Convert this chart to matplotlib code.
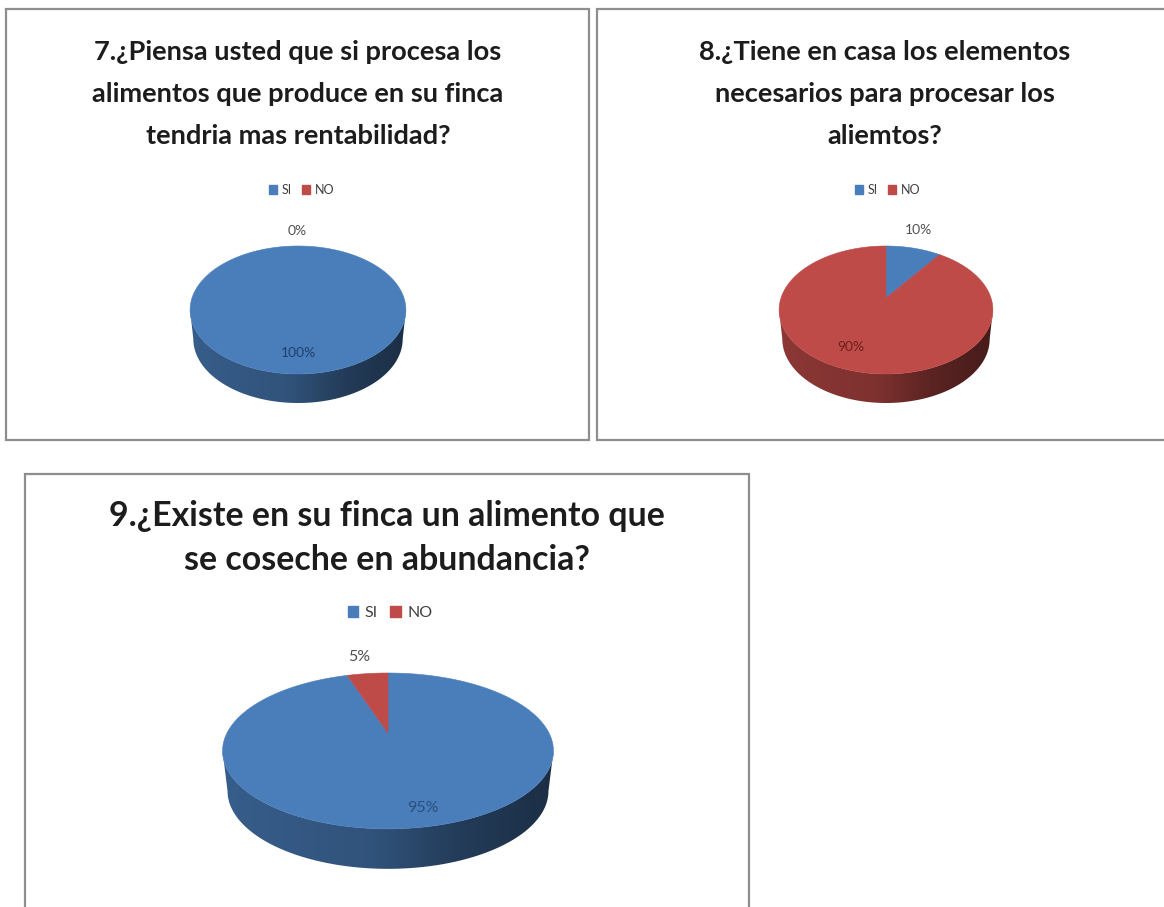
import numpy as np
import matplotlib
matplotlib.use("Agg")
import matplotlib.pyplot as plt
from matplotlib.patches import Patch, Polygon, Rectangle

categories = ["SI", "NO"]
colors = ["#4a7ebb", "#be4b48"]

values_7 = [100, 0]
values_8 = [10, 90]
values_9 = [95, 5]

title_7 = "7.¿Piensa usted que si procesa los\nalimentos que produce en su finca\ntendria mas rentabilidad?"
title_8 = "8.¿Tiene en casa los elementos\nnecesarios para procesar los\naliemtos?"
title_9 = "9.¿Existe en su finca un alimento que\nse coseche en abundancia?"

plt.rcParams["font.family"] = ["Lato", "DejaVu Sans"]

fig = plt.figure(figsize=(11.64, 9.07), dpi=100)
ax = fig.add_axes([0, 0, 1, 1])
ax.set_xlim(0, 1164)
ax.set_ylim(907, 0)
ax.axis("off")


def project(theta, cx, cy, rx, ry, k):
    """Circulo unitario visto em perspectiva."""
    w = 1 + k * np.sin(theta)
    return cx + rx * np.cos(theta) / w, cy - ry * np.sin(theta) / w


def draw_side(t0, t1, color, cx, cy, rx, ry, k, depth):
    # parede lateral so na parte da frente
    lo = np.pi + np.arcsin(k)
    hi = 2 * np.pi - np.arcsin(k)
    t0, t1 = min(t0, t1), max(t0, t1)
    for shift in (0, 2 * np.pi, -2 * np.pi):
        a, b = max(t0 + shift, lo), min(t1 + shift, hi)
        if b <= a:
            continue
        t = np.linspace(a, b, 120)
        x, y = project(t, cx, cy, rx, ry, k)
        x2 = cx + (x - cx) * 0.97
        y2 = y + depth
        pts = np.column_stack([np.r_[x, x2[::-1]], np.r_[y, y2[::-1]]])
        clip = Polygon(pts, closed=True, transform=ax.transData, fc="none", ec="none")
        ax.add_patch(clip)
        base = np.array(matplotlib.colors.to_rgb(color))
        shade = np.interp(np.linspace(0, 1, 256), [0, 0.45, 0.7, 1], [0.74, 0.66, 0.48, 0.36])
        grad = (shade[:, None] * base)[None, :, :]
        im = ax.imshow(grad, extent=[cx - rx * 1.05, cx + rx * 1.05, cy + ry * 2, cy - ry * 1.2],
                       aspect="auto", zorder=2, interpolation="bilinear")
        im.set_clip_path(clip)


def draw_pie(values, cx, cy, rx, ry, k, depth):
    """Pizza 3D, em sentido horario a partir do topo."""
    fracs = np.array(values) / sum(values)
    edges = np.pi / 2 - 2 * np.pi * np.r_[0, np.cumsum(fracs)]
    for i, color in enumerate(colors):
        if fracs[i] == 0:
            continue
        draw_side(edges[i + 1], edges[i], color, cx, cy, rx, ry, k, depth)
    for i, color in enumerate(colors):
        if fracs[i] == 0:
            continue
        t = np.linspace(edges[i], edges[i + 1], 300)
        x, y = project(t, cx, cy, rx, ry, k)
        if fracs[i] < 1:
            x, y = np.r_[cx, x], np.r_[cy, y]
        ax.add_patch(Polygon(np.column_stack([x, y]), closed=True, fc=color, ec=color, lw=0.4, zorder=3))


def draw_panel(x0, y0, x1, y1):
    ax.add_patch(Rectangle((x0, y0), x1 - x0, y1 - y0, fc="white", ec="#8e8e8e", lw=1.6, zorder=1))


def draw_legend(cx, cy, size):
    handles = [Patch(color=c) for c in colors]
    fig.legend(handles, categories, loc="center", bbox_to_anchor=(cx, cy), bbox_transform=ax.transData,
               ncol=2, frameon=False, fontsize=size, labelcolor="#404040",
               handlelength=0.65, handleheight=0.65, handletextpad=0.4, columnspacing=0.8, borderpad=0)


def draw_title(text, cx, cy, size, spacing):
    ax.text(cx, cy, text, ha="center", va="center", fontsize=size, fontweight="bold",
            color="#1c1c1c", linespacing=spacing, zorder=5)


def draw_label(text, x, y, color, size=10):
    ax.text(x, y, text, ha="center", va="center", fontsize=size, color=color, zorder=5)


# paineis (o terceiro e cortado em baixo, o segundo a direita)
draw_panel(6, 9, 589, 440)
draw_panel(597, 9, 1170, 440)
draw_panel(25, 474, 749, 915)

draw_title(title_7, 298, 94, 19.6, 1.9)
draw_title(title_8, 885, 94, 19.6, 1.9)
draw_title(title_9, 387, 538, 24.4, 1.47)

draw_legend(302, 190, 9)
draw_legend(888, 190, 9)
draw_legend(390, 613, 11.5)

draw_pie(values_7, 298, 298, 106, 61.75, 0.1875, 29)
draw_pie(values_8, 886, 298, 105, 61.75, 0.1875, 29)
draw_pie(values_9, 388, 733, 161, 73.8, 0.23, 40)

draw_label(f"{values_7[1]}%", 297, 231, "#505050")
draw_label(f"{values_7[0]}%", 298, 353, "#1f3f6b")
draw_label(f"{values_8[0]}%", 918, 230, "#505050")
draw_label(f"{values_8[1]}%", 851, 347, "#6e1f1d")
draw_label(f"{values_9[1]}%", 359, 657, "#505050", 11.5)
draw_label(f"{values_9[0]}%", 423, 808, "#2a4f7c", 11.5)

fig.savefig("out.png", dpi=100)
